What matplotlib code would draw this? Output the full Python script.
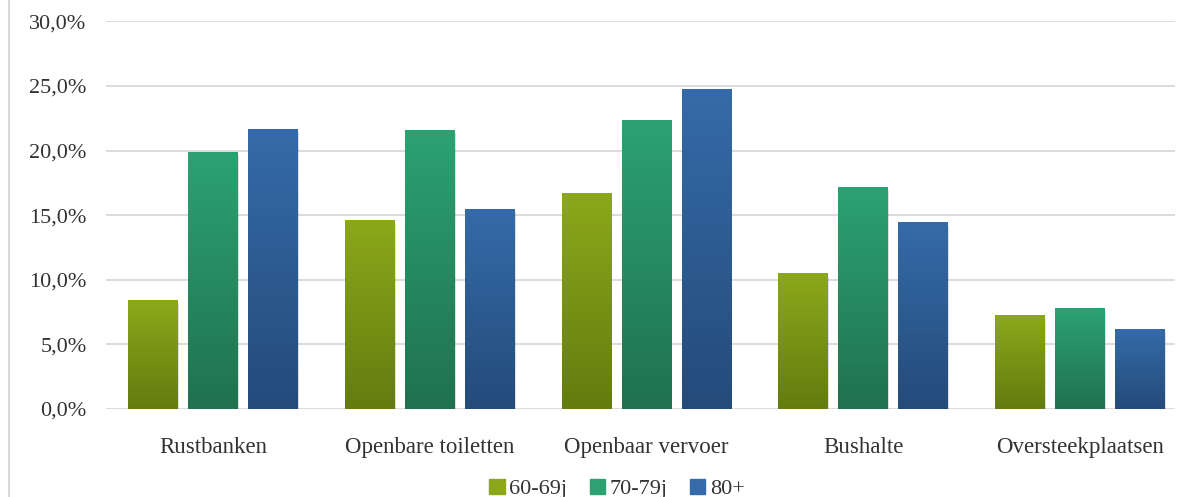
import numpy as np
import matplotlib.pyplot as plt
from matplotlib.colors import LinearSegmentedColormap
from matplotlib.patches import Rectangle
from matplotlib.ticker import FuncFormatter

plt.rcParams['font.family'] = ['Liberation Serif', 'DejaVu Serif']

categories = ['Rustbanken', 'Openbare toiletten', 'Openbaar vervoer', 'Bushalte', 'Oversteekplaatsen']
series = ['60-69j', '70-79j', '80+']
v60 = [8.4, 14.6, 16.7, 10.5, 7.3]
v70 = [19.9, 21.6, 22.4, 17.2, 7.8]
v80 = [21.7, 15.5, 24.8, 14.5, 6.2]

# (top, bottom) colours of the gradient fill
grads = [('#8ca81a', '#637c0f'), ('#2ca272', '#20724f'), ('#356ba8', '#244b7a')]

fig = plt.figure(figsize=(11.79, 4.97), dpi=100)
ax = fig.add_axes([0.09, 0.177, 0.907, 0.78])

x = np.arange(len(categories))
w = 0.23
step = 0.277
for k, vals in enumerate([v60, v70, v80]):
    cmap = LinearSegmentedColormap.from_list('g%d' % k, [grads[k][1], grads[k][0]])
    bars = ax.bar(x + (k - 1) * step, vals, w, color=grads[k][0], label=series[k], zorder=3)
    for b in bars:
        bx, by = b.get_x(), b.get_y()
        bw, bh = b.get_width(), b.get_height()
        # soft shadow under the bar
        ax.add_patch(Rectangle((bx + 0.004, by - 0.25), bw, bh, color='#000000',
                               alpha=0.12, zorder=2, lw=0))
        im = ax.imshow(np.linspace(0, 1, 100).reshape(-1, 1), cmap=cmap, vmin=0, vmax=1,
                       extent=[bx, bx + bw, by, by + bh], origin='lower',
                       aspect='auto', zorder=4)
        im.set_clip_path(b)

ax.set_xlim(-0.493, 4.44)
ax.set_ylim(0, 30)
ax.set_yticks(np.arange(0, 31, 5))
ax.yaxis.set_major_formatter(FuncFormatter(lambda v, p: ('%.1f%%' % v).replace('.', ',')))
ax.grid(axis='y', color='#d9d9d9', lw=1.3, zorder=0)
for s in ax.spines.values():
    s.set_visible(False)
ax.tick_params(axis='both', length=0, colors='#333333')
ax.tick_params(axis='y', pad=14, labelsize=16)
ax.tick_params(axis='x', pad=20, labelsize=16.5)
ax.set_xticks(x)
ax.set_xticklabels(categories)
ax.set_axisbelow(True)

handles, labels = ax.get_legend_handles_labels()
leg = fig.legend(handles, labels, loc='center', bbox_to_anchor=(617 / 1179, 8 / 497), ncol=3,
                 frameon=False, fontsize=16, handlelength=0.7, handleheight=0.7,
                 handletextpad=0.2, columnspacing=1.0, labelcolor='#333333')
for h, c in zip(leg.legend_handles, grads):
    h.set_color(c[0])

fig.add_artist(plt.Line2D([0.0075, 0.0075], [0, 1], transform=fig.transFigure, color='#d9d9d9', lw=1.5))

fig.savefig('out.png', dpi=100)
